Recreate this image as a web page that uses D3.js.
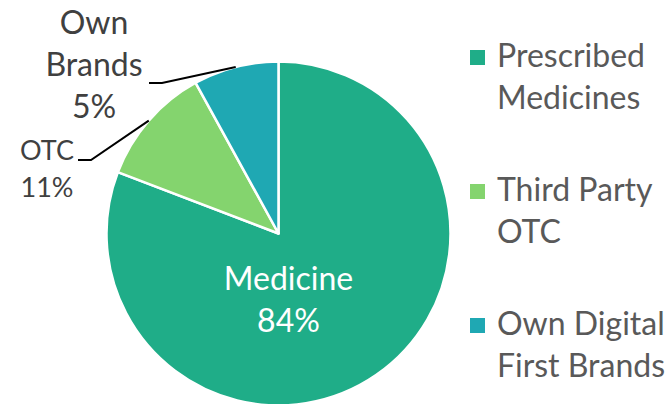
<!DOCTYPE html>
<html lang="en">

<head>
  <meta charset="UTF-8">
  <title>Revenue mix</title>
  <script src="https://d3js.org/d3.v7.min.js"></script>
  <style>
    body {
      margin: 0;
      background-color: #fff;
      font-family: Lato, "Open Sans", sans-serif;
    }

    .legend text {
      fill: #595959;
      font-size: 32px;
    }

    .outside-label {
      fill: #404040;
    }
  </style>
</head>

<body>
  <svg id="chart" width="666" height="404"></svg>

  <script>
    // slice sizes (labels in the chart are rounded differently)
    const segments = ["Medicine", "OTC", "Own Brands"];
    const shares = [80.8, 11.2, 8.0];
    const labelText = ["84%", "11%", "5%"];
    const colors = ["#1fad88", "#84d46e", "#1fa8b3"];
    const legendNames = [["Prescribed", "Medicines"], ["Third Party", "OTC"], ["Own Digital", "First Brands"]];

    const svg = d3.select("#chart");
    const cx = 278.5, cy = 233.5, radius = 172;

    const pie = d3.pie().sort(null).value(d => d);
    const arcs = pie(shares);
    const arc = d3.arc().innerRadius(0).outerRadius(radius);

    const g = svg.append("g").attr("transform", `translate(${cx},${cy})`);

    g.selectAll(".slice")
      .data(arcs)
      .enter().append("path")
      .attr("class", "slice")
      .attr("d", arc)
      .attr("fill", (d, i) => colors[i])
      .attr("stroke", "#fff")
      .attr("stroke-width", 2.5)
      .attr("stroke-linejoin", "round");

    // label inside the big slice
    const inside = g.append("text")
      .attr("text-anchor", "middle")
      .attr("fill", "#fff")
      .style("font-size", "32px");
    inside.append("tspan").attr("x", 10).attr("y", 56).text(segments[0]);
    inside.append("tspan").attr("x", 10).attr("y", 98).text(labelText[0]);

    // outside labels with leader lines to the middle of each small slice
    const edgePoint = d => {
      const a = (d.startAngle + d.endAngle) / 2;
      return [radius * Math.sin(a), -radius * Math.cos(a)];
    };

    const outside = [
      { idx: 1, lines: ["OTC", labelText[1]], x: 47 - cx, y0: 160 - cy, gap: 37, size: 27, elbow: [[78 - cx, 160 - cy], [91 - cx, 160 - cy]] },
      { idx: 2, lines: ["Own", "Brands", labelText[2]], x: 94 - cx, y0: 34 - cy, gap: 42, size: 32, elbow: [[149 - cx, 83 - cy], [162 - cx, 83 - cy]] }
    ];

    outside.forEach(o => {
      const t = g.append("text")
        .attr("class", "outside-label")
        .attr("text-anchor", "middle")
        .style("font-size", o.size + "px");
      t.selectAll("tspan")
        .data(o.lines)
        .enter().append("tspan")
        .attr("x", o.x)
        .attr("y", (d, i) => o.y0 + i * o.gap)
        .text(d => d);

      g.append("path")
        .attr("d", d3.line()([...o.elbow, edgePoint(arcs[o.idx])]))
        .attr("fill", "none")
        .attr("stroke", "#000")
        .attr("stroke-width", 2);
    });

    // legend
    const legend = svg.append("g").attr("class", "legend");
    const legendY = [67, 201, 335];
    legendNames.forEach((names, i) => {
      legend.append("rect")
        .attr("x", 470)
        .attr("y", legendY[i] - 17)
        .attr("width", 15)
        .attr("height", 15)
        .attr("fill", colors[i]);
      names.forEach((n, j) => {
        legend.append("text")
          .attr("x", 497)
          .attr("y", legendY[i] + j * 42)
          .text(n);
      });
    });
  </script>
</body>

</html>
